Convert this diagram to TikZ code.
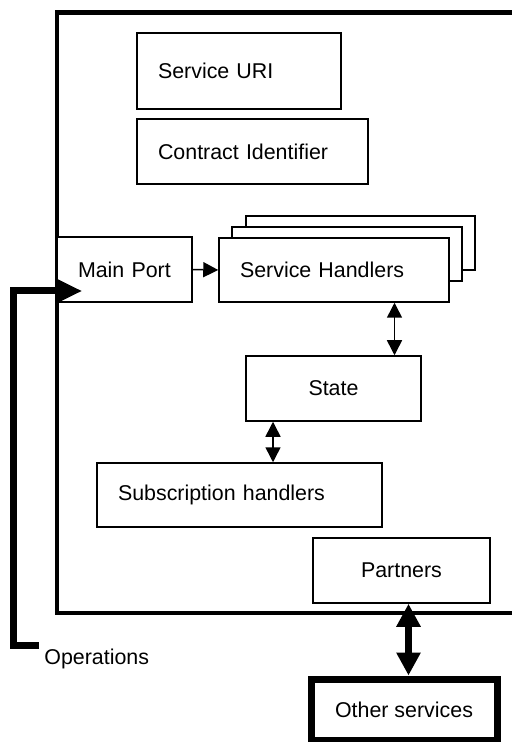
\documentclass[tikz,border=0pt]{standalone}
\usepackage{fontspec}
\setmainfont{Liberation Sans}
\usetikzlibrary{arrows.meta}
\begin{document}
\begin{tikzpicture}[x=0.5pt,y=-0.5pt,
  txt/.style={font=\fontsize{10.7pt}{12.8pt}\selectfont},
  box/.style={draw, line width=0.75pt, fill=white, inner sep=0pt, txt},
  lbox/.style={box, align=left, inner xsep=10.5pt},
  cbox/.style={box, align=center},
  onearrow/.style={line width=0.75pt, -{Triangle[length=7.5pt,width=7.5pt]}},
  twoarrow/.style={line width=0.75pt, {Triangle[length=7.5pt,width=7.5pt]}-{Triangle[length=7.5pt,width=7.5pt]}},
  thickarrow/.style={line width=3.5pt, {Triangle[length=11.5pt,width=11.5pt]}-{Triangle[length=11.5pt,width=11.5pt]}},
  opsline/.style={line width=3.5pt, -{Triangle[length=12.5pt,width=11pt]}},
]
\useasboundingbox (0,0) rectangle (512,742);
\fill[white] (0,0) rectangle (512,742);

% outer frame (open to the right)
\draw[line width=2.2pt] (540,12.5) -- (57,12.5) -- (57,613) -- (540,613);

\node[lbox, text width=81pt, minimum height=38pt] (uri) at (239,71) {Service URI};
\node[lbox, text width=94.5pt, minimum height=32.5pt] (contract) at (252.5,151.5) {Contract Identifier};
\node[lbox, text width=46.5pt, minimum height=32.5pt] (main) at (124.5,269.5) {Main Port};

% stacked service handlers
\node[box, minimum width=114.5pt, minimum height=27pt] (shback) at (360.5,243) {};
\node[box, minimum width=115pt, minimum height=27pt] (shmid) at (347,254) {};
\node[lbox, text width=94pt, minimum height=32pt] (sh) at (334,270) {Service Handlers};

\node[cbox, minimum width=87.5pt, minimum height=32.5pt] (state) at (333.5,388.5) {State};
\node[lbox, text width=121.5pt, minimum height=32pt] (sub) at (239.5,495) {Subscription handlers};
\node[cbox, minimum width=88.5pt, minimum height=32.5pt] (partners) at (401.5,570.5) {Partners};
\node[cbox, line width=3.5pt, minimum width=93pt, minimum height=30.5pt] (other) at (404,709.5) {Other services};

\node[txt, anchor=west, inner sep=0pt] (ops) at (44,659) {Operations};

% connectors
\draw[onearrow] (main.east) -- (sh.west);
\draw[twoarrow] ([xshift=30.25pt]sh.south) coordinate (a) -- (a |- state.north);
\draw[twoarrow] ([xshift=-30.25pt]state.south) coordinate (b) -- (b |- sub.north);
\draw[thickarrow] ([xshift=3.5pt]partners.south) coordinate (c) -- (c |- other.north);

\coordinate (opsfoot) at (39,645);
\draw[opsline] (opsfoot) -- (13,645) -- (13,291) -- ([xshift=13pt,yshift=-10.75pt]main.west);
\end{tikzpicture}
\end{document}
